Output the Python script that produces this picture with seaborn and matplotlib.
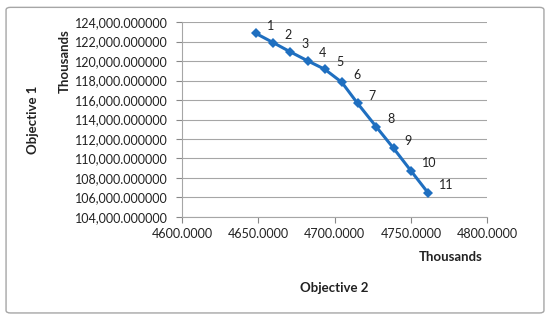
import pandas as pd
import numpy as np
import matplotlib
matplotlib.use("Agg")
import matplotlib.pyplot as plt
import matplotlib.ticker as mticker
from matplotlib.patches import FancyBboxPatch
import seaborn as sns

# Pareto points (values in thousands)
labels = ["1", "2", "3", "4", "5", "6", "7", "8", "9", "10", "11"]
objective2 = [4648.3, 4659.9, 4670.8, 4682.2, 4693.6, 4704.7, 4715.0, 4727.2, 4738.6, 4749.9, 4761.1]
objective1 = [122841, 121877, 120954, 120031, 119149, 117815, 115660, 113262, 111046, 108750, 106492]

df = pd.DataFrame({"Objective 2": objective2, "Objective 1": objective1, "Label": labels})

sns.set_style("white")
plt.rcParams["font.family"] = ["Lato", "DejaVu Sans"]

fig = plt.figure(figsize=(5.5, 3.2), dpi=100)
ax = fig.add_axes([0.331, 0.322, 0.555, 0.609])

sns.lineplot(data=df, x="Objective 2", y="Objective 1", sort=False, ax=ax,
             color="#1F6FC0", linewidth=2.2, marker="D", markersize=5,
             markeredgewidth=0)

for _, r in df.iterrows():
    ax.annotate(r["Label"], (r["Objective 2"], r["Objective 1"]),
                xytext=(8, 5.5), textcoords="offset points",
                ha="left", va="center", fontsize=9, color="#222222")

ax.set_xlim(4600, 4800)
ax.set_ylim(104000, 124000)
ax.set_xticks([4600, 4650, 4700, 4750, 4800])
ax.set_yticks(np.arange(104000, 124001, 2000))
ax.xaxis.set_major_formatter(mticker.FuncFormatter(lambda v, p: f"{v:.4f}"))
ax.yaxis.set_major_formatter(mticker.FuncFormatter(lambda v, p: f"{v:,.6f}"))
ax.tick_params(axis="both", labelsize=9, colors="#888888", labelcolor="#222222",
               length=4, width=0.8, direction="out", left=True, bottom=True)
ax.tick_params(axis="y", pad=6)
ax.tick_params(axis="x", pad=4)

ax.grid(axis="y", color="#A6A6A6", linewidth=0.8)
ax.grid(axis="x", visible=False)
for s in ["top", "right"]:
    ax.spines[s].set_visible(False)
for s in ["left", "bottom"]:
    ax.spines[s].set_color("#A6A6A6")
    ax.spines[s].set_linewidth(0.8)

ax.set_xlabel("")
ax.set_ylabel("")
fig.text(0.607, 0.10, "Objective 2", ha="center", va="center",
         fontsize=9.5, fontweight="bold", color="#222222")
fig.text(0.878, 0.197, "Thousands", ha="right", va="center",
         fontsize=9.5, fontweight="bold", color="#222222")
fig.text(0.06, 0.625, "Objective 1", ha="center", va="center", rotation=90,
         fontsize=9.5, fontweight="bold", color="#222222")
fig.text(0.117, 0.81, "Thousands", ha="center", va="center", rotation=90,
         fontsize=9.5, fontweight="bold", color="#222222")

fig.patches.append(FancyBboxPatch((0.011, 0.022), 0.978, 0.955,
                                  boxstyle="round,pad=0,rounding_size=0.008",
                                  transform=fig.transFigure, fill=False,
                                  edgecolor="#A6A6A6", linewidth=1.0))

fig.savefig("out.png", dpi=100, facecolor="white")
